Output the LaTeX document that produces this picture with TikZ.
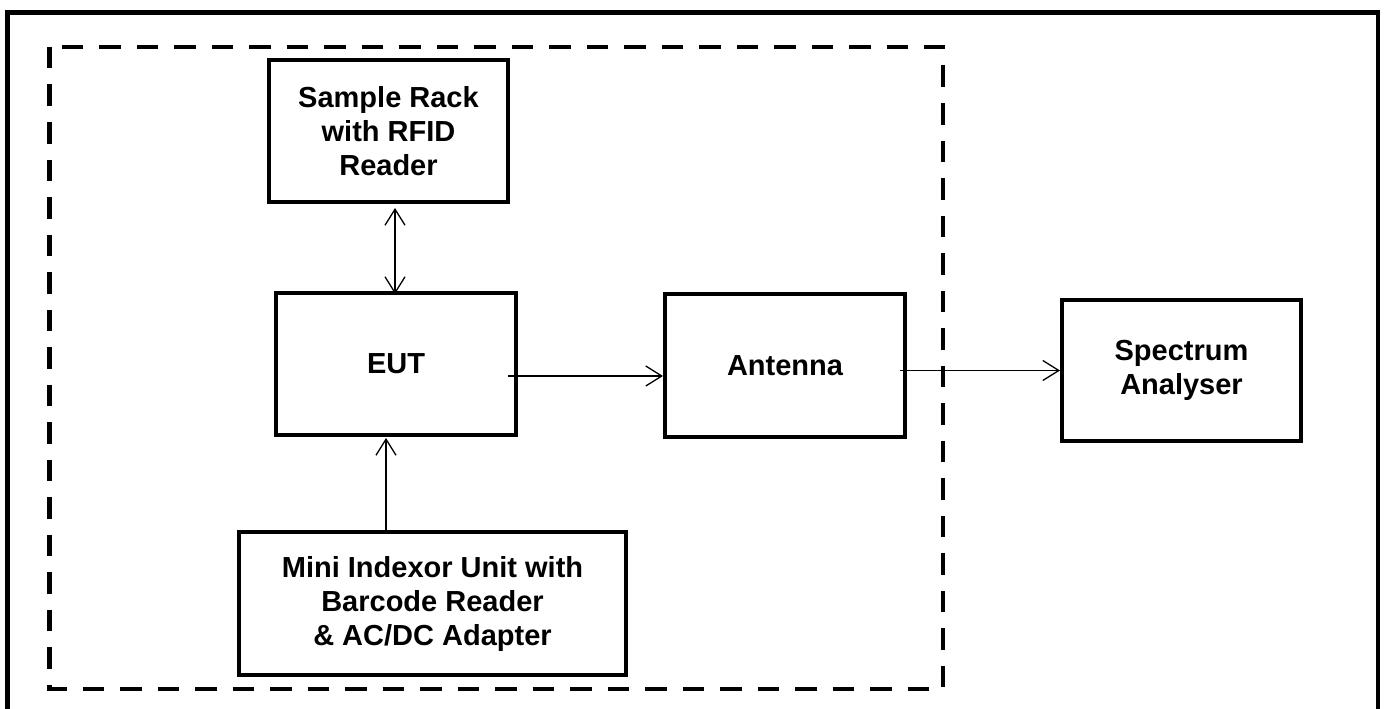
\documentclass[tikz,border=0pt]{standalone}
\usepackage{fontspec}
\setmainfont{Liberation Sans}
\usetikzlibrary{arrows.meta}
\begin{document}
\begin{tikzpicture}[x=1pt,y=-1pt,
  block/.style={draw, line width=4pt, rectangle, inner sep=0pt,
    align=center, font=\fontsize{29}{34}\selectfont\bfseries},
  arr/.style={line width=1.3pt, -{Straight Barb[length=16pt,width=20pt,line width=1.3pt]}},
  biarr/.style={line width=1.3pt, {Straight Barb[length=16pt,width=20pt,line width=1.3pt]}-{Straight Barb[length=16pt,width=20pt,line width=1.3pt]}},
  dashbox/.style={line width=4.5pt, dash pattern=on 21.5pt off 16pt},
  frame/.style={line width=4.5pt}]
\clip (0,0) rectangle (1387,709);
\fill[white] (0,0) rectangle (1387,709);

% outer frame (open at the bottom)
\draw[frame] (7.5,720) -- (7.5,12.5) -- (1378,12.5) -- (1378,720);

% dashed enclosure
\draw[dashbox] (49.5,47) rectangle (943,689);

% blocks
\node[block, minimum width=239pt, minimum height=142pt] (rack) at (388.5,131)
  {Sample Rack\\with RFID\\Reader};
\node[block, minimum width=240pt, minimum height=142pt] (eut) at (396,364) {EUT};
\node[block, minimum width=240pt, minimum height=143pt] (ant) at (785,365.5) {Antenna};
\node[block, minimum width=239pt, minimum height=141pt] (spec) at (1181.5,370.5)
  {Spectrum\\Analyser};
\node[block, minimum width=387pt, minimum height=143pt] (mini) at (432.5,603.5)
  {Mini Indexor Unit with\\Barcode Reader\\\& AC/DC Adapter};

% connectors
\draw[biarr] ([xshift=6.5pt,yshift=-4pt]rack.south) -- ([xshift=-1pt,yshift=-3pt]eut.north);
\draw[arr] ([xshift=-46.5pt]mini.north) -- ([xshift=-10pt,yshift=-1pt]eut.south);
\coordinate (e1) at ([xshift=-10pt,yshift=-12pt]eut.east);
\draw[arr] (e1) -- (e1 -| ant.west);
\coordinate (a1) at ([xshift=-7pt]ant.east);
\draw[arr] (a1 |- spec.west) -- (spec.west);
\end{tikzpicture}
\end{document}
